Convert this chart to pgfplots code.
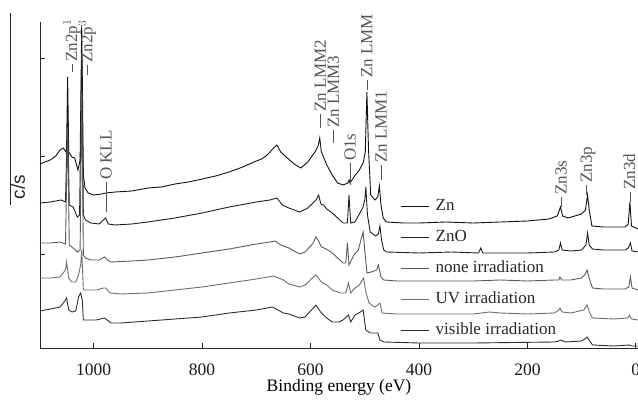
\documentclass[border=0pt]{standalone}
\usepackage{pgfplots}
\pgfplotsset{compat=1.18}
\usetikzlibrary{calc}
\usepackage{fontspec}
\setmainfont{Liberation Serif}
\newfontfamily\arialfont{Liberation Sans}
\definecolor{labgray}{HTML}{555555}
\definecolor{c1}{HTML}{111111}
\definecolor{c2}{HTML}{1E1E1E}
\definecolor{c3}{HTML}{5A5A5A}
\definecolor{c4}{HTML}{6E6E6E}
\definecolor{c5}{HTML}{2E2E2E}

\newcommand{\lead}[1]{\rule[0.28em]{#1}{0.7bp}\hspace{2bp}}
\tikzset{peaklab/.style={rotate=90, anchor=west, inner sep=0pt, text=labgray,
  font=\fontsize{17bp}{19bp}\selectfont}}

\begin{document}
\begin{tikzpicture}
\begin{axis}[name=ax,
  width=598bp, height=326bp, scale only axis,
  x dir=reverse,
  xmin=-4, xmax=1099, ymin=0, ymax=326,
  axis x line=bottom, axis y line=left,
  axis line style={-, line width=0.8bp, black!85},
  tick style={line width=0.8bp, black!85},
  tick align=inside, major tick length=5bp,
  xtick={0,200,400,600,800,1000},
  ytick={94,192,290}, yticklabels={},
  /pgf/number format/assume math mode=true,
  /pgf/number format/1000 sep={},
  ticklabel style={font=\fontsize{17.5bp}{20bp}\selectfont, text=black!90},
  xticklabel style={yshift=-12bp},
  xlabel={Binding energy (eV)},
  xlabel style={font=\fontsize{17.5bp}{20bp}\selectfont,
    at={(axis description cs:0.5,0)}, anchor=center, yshift=-39bp},
  clip=false,
  every axis plot/.append style={line width=0.9bp},
  legend cell align=left,
  legend style={at={(axis cs:435,151)}, anchor=north west, draw=none, fill=none,
    font=\fontsize{17bp}{19bp}\selectfont, text=black!85,
    row sep=12bp, inner sep=0pt,
    nodes={inner sep=1.5bp, text height=12bp, text depth=4bp}},
  legend image code/.code={\draw[#1, line width=1bp] (0bp,0bp) -- (28bp,0bp);},
  legend style={/tikz/every odd column/.append style={column sep=5bp}},
]
% Zn
\addplot[c1] coordinates {
(1099,184)(1090,186)(1080,188)(1070,192)(1062,198)(1056,200)(1051,196)(1050,198)(1048,271)(1046,196)
(1040,191)(1035,190)(1029,178)(1025,188)(1022,323)(1019,173)(1016,160)(1010,155)(1000,153)
(985,154)(978,155)(960,156)(930,157)(900,160)(875,161)(850,164)(825,166)(800,169)(775,172)
(750,176)(725,181)(700,187)(690,189)(680,193)(668,200)(662,203)(655,196)(645,191)(630,184)
(618,180)(605,186)(592,196)(586,202)(583,210)(580,196)(576,191)(570,183)(560,173)(550,165)
(540,163)(531,165)(529,168)(527,165)(520,171)(510,178)(503,185)(499,196)(496,256)(493,198)
(489,153)(481,148)(476,151)(473,162)(470,143)(466,130)(460,126)(430,125)(400,125)(350,126)
(300,125)(250,126)(200,127)(160,129)(145,132)(139,141)(135,132)(125,130)(100,134)(93,138)
(89,153)(86,138)(81,122)(60,121)(40,121)(20,121)(14,124)(11,146)(8,122)(-4,119)};
\addlegendentry{Zn}
% ZnO
\addplot[c2] coordinates {
(1099,145)(1080,146)(1060,148)(1052,146)(1048,233)(1045,143)(1038,141)(1030,131)(1026,133)
(1022,288)(1019,133)(1015,128)(1005,125)(990,124)(982,128)(978,130)(973,124)(960,123)
(930,124)(900,126)(850,130)(800,135)(750,141)(700,146)(675,148)(662,150)(652,143)(640,140)
(620,136)(605,140)(590,148)(585,153)(581,144)(576,143)(570,139)(560,135)(550,130)(540,125)
(532,125)(529,153)(526,125)(518,126)(510,134)(503,141)(500,148)(498,161)(495,133)(490,116)
(480,112)(475,114)(472,122)(469,108)(465,98)(460,96)(400,95)(340,96)(290,95)(286,100)(282,95)
(200,95)(150,96)(142,98)(139,105)(136,98)(120,97)(100,98)(92,103)(89,115)(86,103)(80,99)
(60,98)(20,98)(14,100)(10,105)(7,97)(-4,96)};
\addlegendentry{ZnO}
% none irradiation
\addplot[c3] coordinates {
(1099,105)(1080,105)(1062,106)(1052,104)(1048,221)(1045,103)(1038,100)(1030,96)(1025,98)
(1022,258)(1019,93)(1015,90)(1005,88)(990,88)(980,91)(975,88)(968,86)(930,87)(900,88)
(850,91)(800,95)(750,99)(700,104)(675,106)(665,107)(655,103)(640,100)(620,94)(610,96)
(595,105)(590,111)(586,108)(580,101)(575,100)(568,98)(560,95)(550,90)(540,85)(535,85)
(532,105)(529,83)(520,93)(512,98)(506,110)(503,116)(500,98)(496,75)(488,76)(478,78)(475,83)
(470,71)(465,68)(440,67)(380,67)(300,67)(250,68)(200,67)(150,68)(142,68)(140,71)(137,68)
(120,68)(100,70)(93,74)(90,78)(86,70)(80,60)(60,59)(20,59)(13,61)(10,71)(7,60)(-4,58)};
\addlegendentry{none irradiation}
% UV irradiation
\addplot[c4] coordinates {
(1099,70)(1080,70)(1062,71)(1052,78)(1050,86)(1046,70)(1040,66)(1033,66)(1028,73)(1024,83)
(1022,98)(1019,58)(1010,58)(995,58)(982,60)(978,60)(970,55)(950,54)(900,55)(850,58)(800,61)
(750,65)(700,69)(668,72)(650,68)(640,64)(620,61)(610,63)(595,71)(590,73)(580,66)(570,63)
(560,58)(545,55)(535,55)(530,65)(526,55)(518,60)(510,63)(502,70)(498,56)(492,45)(482,41)
(476,43)(472,45)(468,35)(440,34)(380,34)(300,34)(270,36)(250,35)(200,34)(150,35)(142,38)
(140,40)(136,36)(120,35)(96,38)(90,43)(85,35)(80,30)(40,29)(15,30)(12,33)(8,29)(-4,28)};
\addlegendentry{UV irradiation}
% visible irradiation
\addplot[c5] coordinates {
(1099,37)(1080,39)(1062,41)(1052,48)(1050,50)(1046,38)(1040,36)(1033,37)(1028,51)(1024,55)
(1021,48)(1019,28)(1010,28)(995,28)(980,30)(975,28)(968,25)(950,25)(900,27)(850,29)(800,31)
(750,35)(700,38)(670,41)(650,35)(640,34)(620,30)(610,31)(595,40)(590,43)(580,35)(570,30)
(560,26)(548,26)(540,28)(530,33)(526,26)(518,33)(508,36)(503,38)(498,18)(490,15)(480,15)
(476,15)(472,8)(465,6)(400,5)(300,5)(150,6)(142,7)(138,8)(130,6)(100,7)(94,9)(90,11)(86,8)
(80,3)(40,2)(12,3)(8,2)(-4,2)};
\addlegendentry{visible irradiation}

\node[peaklab] at (axis cs:1040,276) {\lead{8bp}Zn2p$^{1}$};
\node[peaklab] at (axis cs:1012,273) {\lead{10bp}Zn2p$^{3}$};
\node[peaklab] at (axis cs:977,136) {\lead{30bp}O KLL};
\node[peaklab] at (axis cs:582,220) {\lead{14bp}Zn LMM2};
\node[peaklab] at (axis cs:558,205) {\lead{13bp}Zn LMM3};
\node[peaklab] at (axis cs:527,163) {\lead{22bp}O1s};
\node[peaklab] at (axis cs:496,258) {\lead{10bp}Zn LMM};
\node[peaklab] at (axis cs:470,168) {\lead{15bp}Zn LMM1};
\node[peaklab] at (axis cs:138,141) {\lead{10bp}Zn3s};
\node[peaklab] at (axis cs:88,153) {\lead{10bp}Zn3p};
\node[peaklab] at (axis cs:12,146) {\lead{10bp}Zn3d};
\end{axis}
\draw[line width=0.8bp, black!85] (ax.south west) ++(-30bp,143bp) -- ++(0bp,192bp);
\node[rotate=90, inner sep=0pt, font=\arialfont\fontsize{19bp}{21bp}\selectfont, text=black!85]
  at ($(ax.south west)+(-22bp,161bp)$) {c/s};
\pgfresetboundingbox
\path[use as bounding box] (ax.south west) ++(-40bp,-52bp) rectangle ++(638bp,400bp);
\end{tikzpicture}
\end{document}
